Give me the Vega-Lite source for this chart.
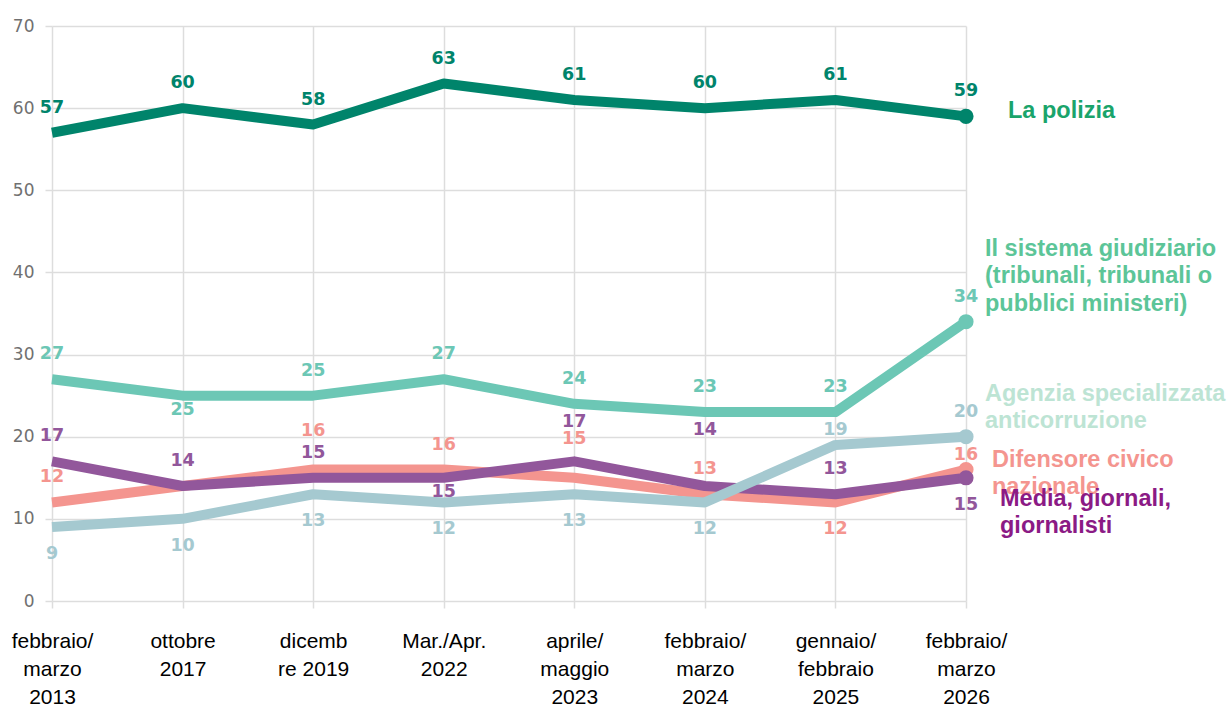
{
  "$schema": "https://vega.github.io/schema/vega-lite/v6.json",
  "autosize": {"type": "none"},
  "padding": {"left": 52, "top": 26, "right": 266, "bottom": 108},
  "width": 914,
  "height": 575,
  "background": "white",
  "config": {"view": {"stroke": null}},
  "data": {
    "values": [
      {"series": "Il sistema giudiziario", "period": "febbraio/\nmarzo\n2013", "value": 27, "labelPos": "above"},
      {"series": "Il sistema giudiziario", "period": "ottobre\n2017", "value": 25, "labelPos": "near-below"},
      {"series": "Il sistema giudiziario", "period": "dicemb\nre 2019", "value": 25, "labelPos": "above"},
      {"series": "Il sistema giudiziario", "period": "Mar./Apr.\n2022", "value": 27, "labelPos": "above"},
      {"series": "Il sistema giudiziario", "period": "aprile/\nmaggio\n2023", "value": 24, "labelPos": "above"},
      {"series": "Il sistema giudiziario", "period": "febbraio/\nmarzo\n2024", "value": 23, "labelPos": "above"},
      {"series": "Il sistema giudiziario", "period": "gennaio/\nfebbraio\n2025", "value": 23, "labelPos": "above"},
      {"series": "Il sistema giudiziario", "period": "febbraio/\nmarzo\n2026", "value": 34, "labelPos": "above"},

      {"series": "Difensore civico nazionale", "period": "febbraio/\nmarzo\n2013", "value": 12, "labelPos": "above"},
      {"series": "Difensore civico nazionale", "period": "ottobre\n2017", "value": 14, "labelPos": "none"},
      {"series": "Difensore civico nazionale", "period": "dicemb\nre 2019", "value": 16, "labelPos": "above2"},
      {"series": "Difensore civico nazionale", "period": "Mar./Apr.\n2022", "value": 16, "labelPos": "above"},
      {"series": "Difensore civico nazionale", "period": "aprile/\nmaggio\n2023", "value": 15, "labelPos": "above2"},
      {"series": "Difensore civico nazionale", "period": "febbraio/\nmarzo\n2024", "value": 13, "labelPos": "above"},
      {"series": "Difensore civico nazionale", "period": "gennaio/\nfebbraio\n2025", "value": 12, "labelPos": "below"},
      {"series": "Difensore civico nazionale", "period": "febbraio/\nmarzo\n2026", "value": 16, "labelPos": "near-above"},

      {"series": "Media, giornali, giornalisti", "period": "febbraio/\nmarzo\n2013", "value": 17, "labelPos": "above"},
      {"series": "Media, giornali, giornalisti", "period": "ottobre\n2017", "value": 14, "labelPos": "above"},
      {"series": "Media, giornali, giornalisti", "period": "dicemb\nre 2019", "value": 15, "labelPos": "above"},
      {"series": "Media, giornali, giornalisti", "period": "Mar./Apr.\n2022", "value": 15, "labelPos": "near-below"},
      {"series": "Media, giornali, giornalisti", "period": "aprile/\nmaggio\n2023", "value": 17, "labelPos": "above2"},
      {"series": "Media, giornali, giornalisti", "period": "febbraio/\nmarzo\n2024", "value": 14, "labelPos": "above3"},
      {"series": "Media, giornali, giornalisti", "period": "gennaio/\nfebbraio\n2025", "value": 13, "labelPos": "above"},
      {"series": "Media, giornali, giornalisti", "period": "febbraio/\nmarzo\n2026", "value": 15, "labelPos": "below"},

      {"series": "Agenzia specializzata anticorruzione", "period": "febbraio/\nmarzo\n2013", "value": 9, "labelPos": "below"},
      {"series": "Agenzia specializzata anticorruzione", "period": "ottobre\n2017", "value": 10, "labelPos": "below"},
      {"series": "Agenzia specializzata anticorruzione", "period": "dicemb\nre 2019", "value": 13, "labelPos": "below"},
      {"series": "Agenzia specializzata anticorruzione", "period": "Mar./Apr.\n2022", "value": 12, "labelPos": "below"},
      {"series": "Agenzia specializzata anticorruzione", "period": "aprile/\nmaggio\n2023", "value": 13, "labelPos": "below"},
      {"series": "Agenzia specializzata anticorruzione", "period": "febbraio/\nmarzo\n2024", "value": 12, "labelPos": "below"},
      {"series": "Agenzia specializzata anticorruzione", "period": "gennaio/\nfebbraio\n2025", "value": 19, "labelPos": "near-above"},
      {"series": "Agenzia specializzata anticorruzione", "period": "febbraio/\nmarzo\n2026", "value": 20, "labelPos": "above"},

      {"series": "La polizia", "period": "febbraio/\nmarzo\n2013", "value": 57, "labelPos": "above"},
      {"series": "La polizia", "period": "ottobre\n2017", "value": 60, "labelPos": "above"},
      {"series": "La polizia", "period": "dicemb\nre 2019", "value": 58, "labelPos": "above"},
      {"series": "La polizia", "period": "Mar./Apr.\n2022", "value": 63, "labelPos": "above"},
      {"series": "La polizia", "period": "aprile/\nmaggio\n2023", "value": 61, "labelPos": "above"},
      {"series": "La polizia", "period": "febbraio/\nmarzo\n2024", "value": 60, "labelPos": "above"},
      {"series": "La polizia", "period": "gennaio/\nfebbraio\n2025", "value": 61, "labelPos": "above"},
      {"series": "La polizia", "period": "febbraio/\nmarzo\n2026", "value": 59, "labelPos": "above"}
    ]
  },
  "encoding": {
    "x": {
      "field": "period",
      "type": "ordinal",
      "sort": ["febbraio/\nmarzo\n2013", "ottobre\n2017", "dicemb\nre 2019", "Mar./Apr.\n2022", "aprile/\nmaggio\n2023", "febbraio/\nmarzo\n2024", "gennaio/\nfebbraio\n2025", "febbraio/\nmarzo\n2026"],
      "scale": {"type": "point", "padding": 0},
      "axis": {
        "title": null,
        "labelExpr": "split(datum.label, '\\n')",
        "labelAngle": 0,
        "labelFont": "Liberation Sans",
        "labelFontSize": 21,
        "labelColor": "#000000",
        "labelLineHeight": 28,
        "labelBaseline": "top",
        "labelPadding": 22,
        "labelOverlap": false,
        "labelBound": false,
        "domain": false,
        "grid": true,
        "gridColor": "#dddddd",
        "gridWidth": 1.5,
        "ticks": true,
        "tickColor": "#dddddd",
        "tickWidth": 1.5,
        "tickSize": 7
      }
    },
    "y": {
      "field": "value",
      "type": "quantitative",
      "scale": {"domain": [0, 70], "nice": false, "zero": true},
      "axis": {
        "title": null,
        "values": [0, 10, 20, 30, 40, 50, 60, 70],
        "labelFont": "DejaVu Sans",
        "labelFontSize": 17,
        "labelColor": "#707070",
        "labelPadding": 11,
        "domain": false,
        "grid": true,
        "gridColor": "#dddddd",
        "gridWidth": 1.5,
        "ticks": true,
        "tickColor": "#dddddd",
        "tickWidth": 1.5,
        "tickSize": 7
      }
    },
    "color": {
      "field": "series",
      "type": "nominal",
      "legend": null,
      "scale": {
        "domain": ["La polizia", "Il sistema giudiziario", "Agenzia specializzata anticorruzione", "Difensore civico nazionale", "Media, giornali, giornalisti"],
        "range": ["#00846b", "#6cc7b5", "#a5c9d0", "#f4958f", "#92579b"]
      }
    }
  },
  "layer": [
    {
      "mark": {"type": "line", "strokeWidth": 10, "strokeJoin": "round", "strokeCap": "butt"}
    },
    {
      "transform": [{"filter": "datum.period === 'febbraio/\\nmarzo\\n2026'"}],
      "mark": {"type": "circle", "size": 230, "opacity": 1}
    },
    {
      "transform": [{"filter": "datum.labelPos !== 'none'"}],
      "mark": {
        "type": "text",
        "font": "DejaVu Sans",
        "fontWeight": "bold",
        "fontSize": 17.5,
        "baseline": "middle",
        "align": "center",
        "dy": {"expr": "datum.labelPos === 'above' ? -25 : datum.labelPos === 'above2' ? -39 : datum.labelPos === 'above3' ? -56 : datum.labelPos === 'near-above' ? -15 : datum.labelPos === 'near-below' ? 14 : 27"}
      },
      "encoding": {"text": {"field": "value", "type": "quantitative"}}
    },
    {
      "transform": [{"filter": "datum.series === 'La polizia' && datum.period === 'febbraio/\\nmarzo\\n2026'"}],
      "mark": {"type": "text", "text": "La polizia", "font": "Liberation Sans", "fontWeight": "bold", "fontSize": 23.5, "align": "left", "baseline": "top", "dx": 42, "dy": -17},
      "encoding": {"color": {"value": "#1aa46b"}}
    },
    {
      "transform": [{"filter": "datum.series === 'Il sistema giudiziario' && datum.period === 'febbraio/\\nmarzo\\n2026'"}],
      "mark": {"type": "text", "text": ["Il sistema giudiziario", "(tribunali, tribunali o", "pubblici ministeri)"], "font": "Liberation Sans", "fontWeight": "bold", "fontSize": 23.5, "lineHeight": 27.5, "align": "left", "baseline": "top", "dx": 19, "dy": -85},
      "encoding": {"color": {"value": "#5cc598"}}
    },
    {
      "transform": [{"filter": "datum.series === 'Agenzia specializzata anticorruzione' && datum.period === 'febbraio/\\nmarzo\\n2026'"}],
      "mark": {"type": "text", "text": ["Agenzia specializzata", "anticorruzione"], "font": "Liberation Sans", "fontWeight": "bold", "fontSize": 23.5, "lineHeight": 27.5, "align": "left", "baseline": "top", "dx": 19, "dy": -55},
      "encoding": {"color": {"value": "#bde4d4"}}
    },
    {
      "transform": [{"filter": "datum.series === 'Difensore civico nazionale' && datum.period === 'febbraio/\\nmarzo\\n2026'"}],
      "mark": {"type": "text", "text": ["Difensore civico", "nazionale"], "font": "Liberation Sans", "fontWeight": "bold", "fontSize": 23.5, "lineHeight": 27.5, "align": "left", "baseline": "top", "dx": 26, "dy": -22},
      "encoding": {"color": {"value": "#f4958f"}}
    },
    {
      "transform": [{"filter": "datum.series === 'Media, giornali, giornalisti' && datum.period === 'febbraio/\\nmarzo\\n2026'"}],
      "mark": {"type": "text", "text": ["Media, giornali,", "giornalisti"], "font": "Liberation Sans", "fontWeight": "bold", "fontSize": 23.5, "lineHeight": 27.5, "align": "left", "baseline": "top", "dx": 34, "dy": 9},
      "encoding": {"color": {"value": "#8b1a85"}}
    }
  ]
}
